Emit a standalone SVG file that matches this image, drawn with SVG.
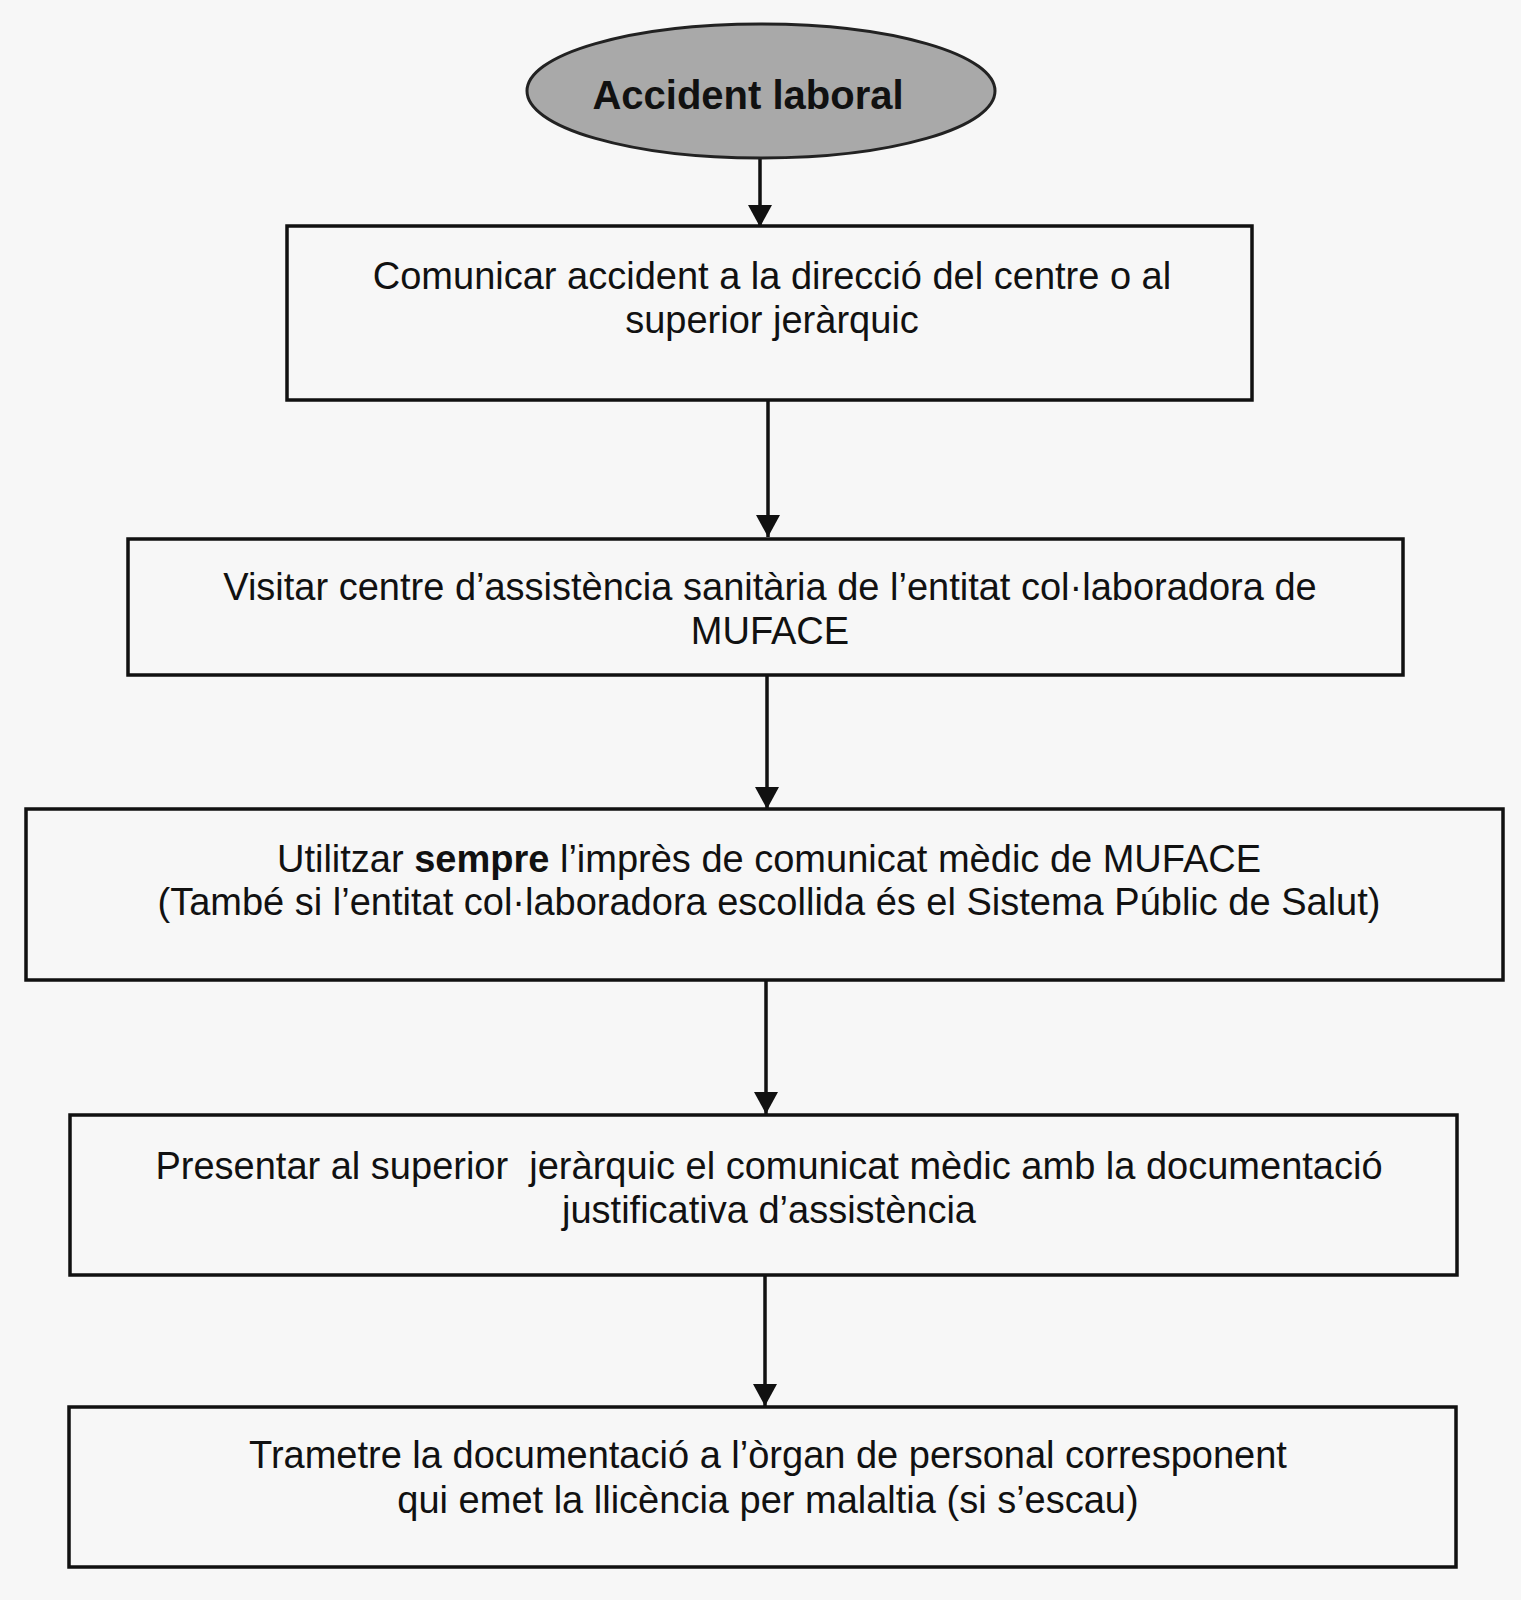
<svg xmlns="http://www.w3.org/2000/svg" width="1521" height="1600" viewBox="0 0 1521 1600">
<defs>
<marker id="ah" markerUnits="userSpaceOnUse" markerWidth="24" markerHeight="24" viewBox="0 0 24 24" refX="22" refY="12" orient="auto">
<path d="M0,0 L22,12 L0,24 Z" fill="#111"/>
</marker>
</defs>
<style>
.box{fill:#f7f7f7;stroke:#111;stroke-width:3.5}
.t{font-family:"Liberation Sans",Arial,sans-serif;font-size:38px;fill:#111;text-anchor:middle}
.b{font-weight:bold}
.c{stroke:#111;stroke-width:3.5;fill:none}
</style>
<rect x="0" y="0" width="1521" height="1600" fill="#f7f7f7"/>
<g id="connectors">
<line class="c" x1="760" y1="158" x2="760" y2="227" marker-end="url(#ah)"/>
<line class="c" x1="768" y1="400" x2="768" y2="537" marker-end="url(#ah)"/>
<line class="c" x1="767" y1="675" x2="767" y2="809" marker-end="url(#ah)"/>
<line class="c" x1="766" y1="980" x2="766" y2="1114" marker-end="url(#ah)"/>
<line class="c" x1="765" y1="1275" x2="765" y2="1406" marker-end="url(#ah)"/>
</g>
<g id="start">
<ellipse cx="761" cy="91" rx="234" ry="67" fill="#a9a9a9" stroke="#222" stroke-width="3"/>
<text class="t b" x="748" y="109" font-size="40" style="font-size:40px">Accident laboral</text>
</g>
<g id="step1">
<rect class="box" x="287" y="226" width="965" height="174"/>
<text class="t" x="772" y="289">Comunicar accident a la direcció del centre o al</text>
<text class="t" x="772" y="333">superior jeràrquic</text>
</g>
<g id="step2">
<rect class="box" x="128" y="539" width="1275" height="136"/>
<text class="t" x="770" y="600">Visitar centre d’assistència sanitària de l’entitat col·laboradora de</text>
<text class="t" x="770" y="644">MUFACE</text>
</g>
<g id="step3">
<rect class="box" x="26" y="809" width="1477" height="171"/>
<text class="t" x="769" y="872">Utilitzar <tspan class="b">sempre</tspan> l’imprès de comunicat mèdic de MUFACE</text>
<text class="t" x="769" y="915">(També si l’entitat col·laboradora escollida és el Sistema Públic de Salut)</text>
</g>
<g id="step4">
<rect class="box" x="70" y="1115" width="1387" height="160"/>
<text class="t" x="769" y="1179" xml:space="preserve">Presentar al superior  jeràrquic el comunicat mèdic amb la documentació</text>
<text class="t" x="769" y="1223">justificativa d’assistència</text>
</g>
<g id="step5">
<rect class="box" x="69" y="1407" width="1387" height="160"/>
<text class="t" x="768" y="1468">Trametre la documentació a l’òrgan de personal corresponent</text>
<text class="t" x="768" y="1513">qui emet la llicència per malaltia (si s’escau)</text>
</g>
</svg>
